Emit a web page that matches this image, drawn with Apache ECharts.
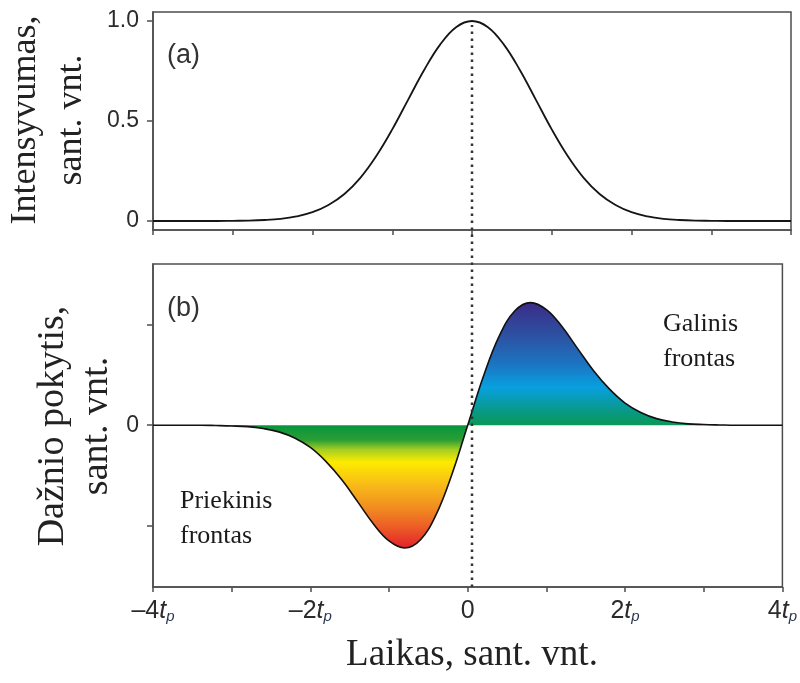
<!DOCTYPE html>
<html>
<head>
<meta charset="utf-8">
<title>Intensyvumas ir dažnio pokytis</title>
<script src="https://cdn.jsdelivr.net/npm/echarts@6/dist/echarts.min.js"></script>
<style>
html, body { margin: 0; padding: 0; background: #fff; }
#chart { width: 800px; height: 683px; }
</style>
</head>
<body>
<div id="chart"></div>
<script>
// time axis, in units of t_p
var times = [-4, -3.8, -3.6, -3.4, -3.2, -3, -2.8, -2.6, -2.4, -2.2, -2, -1.8, -1.6, -1.4, -1.2, -1, -0.8, -0.6, -0.4, -0.2,
	0, 0.2, 0.4, 0.6, 0.8, 1, 1.2, 1.4, 1.6, 1.8, 2, 2.2, 2.4, 2.6, 2.8, 3, 3.2, 3.4, 3.6, 3.8, 4];

// (a) pulse intensity
var intensity = [0, 0, 0, 0, 0, 0.001, 0.002, 0.005, 0.011, 0.023, 0.044, 0.080, 0.135, 0.216, 0.325, 0.458, 0.607, 0.755, 0.882, 0.969,
	1.000, 0.969, 0.882, 0.755, 0.607, 0.458, 0.325, 0.216, 0.135, 0.080, 0.044, 0.023, 0.011, 0.005, 0.002, 0.001, 0, 0, 0, 0, 0];

// (b) frequency change (one tick = 1 unit)
var chirp = [0, 0, 0, 0, -0.003, -0.007, -0.014, -0.033, -0.066, -0.127, -0.221, -0.362, -0.543, -0.760, -0.980, -1.151, -1.221, -1.139, -0.887, -0.487,
	0, 0.487, 0.887, 1.139, 1.221, 1.151, 0.980, 0.760, 0.543, 0.362, 0.221, 0.127, 0.066, 0.033, 0.014, 0.007, 0.003, 0, 0, 0, 0];

var timeTicks = [-4, -3, -2, -1, 0, 1, 2, 3, 4];
var timeLabelTicks = [-4, -2, 0, 2, 4];
var timeLabelText = ['\u20134', '\u20132', '0', '2', '4'];
var intensityTicks = [0, 0.5, 1];
var intensityTickText = ['0', '0.5', '1.0'];
var chirpTicks = [-1, 0, 1];
var chirpLabelTicks = [0];
var centreLine = [0, 1]; // dotted t = 0 line, bottom and top of its span

var frame = '#4d4d4d';
var ink = '#2b2b2b';
var sans = 'Liberation Sans';

var pairs = function(ys) {
	return times.map(function(t, i) {
		return [t, ys[i]];
	});
};

var myChart = echarts.init(document.getElementById('chart'));

var axisLine = { onZero: false, lineStyle: { color: frame, width: 1.5 } };
var tickStyle = { color: frame, width: 1.5 };

var option = {
	animation: false,
	backgroundColor: '#fff',
	grid: [
		{ left: 153, right: 9, top: 12, height: 218, show: true, borderColor: frame, borderWidth: 1.5 },
		{ left: 153, right: 9, top: 264, height: 323, show: true, borderColor: frame, borderWidth: 1.5 },
		{ left: 153, right: 9, top: 25, height: 562 }
	],
	xAxis: [{
		gridIndex: 0,
		type: 'value',
		position: 'bottom',
		min: -4,
		max: 4,
		interval: 1,
		axisLine: axisLine,
		axisTick: { customValues: timeTicks, inside: false, length: 5, lineStyle: tickStyle },
		axisLabel: { show: false },
		splitLine: { show: false }
	}, {
		gridIndex: 1,
		type: 'value',
		position: 'bottom',
		min: -4,
		max: 4,
		interval: 1,
		axisLine: axisLine,
		axisTick: { customValues: timeTicks, inside: false, length: 5, lineStyle: tickStyle },
		axisLabel: {
			customValues: timeLabelTicks,
			margin: 12,
			formatter: function(v) {
				var s = timeLabelText[timeLabelTicks.indexOf(v)];
				if (v === 0) return '{n|' + s + '}';
				return '{n|' + s + '}{t|t}{p|p}';
			},
			rich: {
				n: { fontFamily: sans, fontSize: 25, color: ink, verticalAlign: 'bottom' },
				t: { fontFamily: sans, fontSize: 25, fontStyle: 'italic', color: ink, verticalAlign: 'bottom' },
				p: { fontFamily: sans, fontSize: 15, fontStyle: 'italic', color: '#2a3550', verticalAlign: 'bottom' }
			}
		},
		splitLine: { show: false }
	}, {
		gridIndex: 2,
		type: 'value',
		min: -4,
		max: 4,
		show: false
	}],
	yAxis: [{
		gridIndex: 0,
		type: 'value',
		position: 'left',
		min: -0.045,
		max: 1.045,
		axisLine: axisLine,
		axisTick: { customValues: intensityTicks, inside: false, length: 6, lineStyle: tickStyle },
		axisLabel: {
			customValues: intensityTicks,
			margin: 14,
			fontFamily: sans,
			fontSize: 23,
			color: ink,
			formatter: function(v) {
				return intensityTickText[intensityTicks.indexOf(v)];
			}
		},
		splitLine: { show: false }
	}, {
		gridIndex: 1,
		type: 'value',
		position: 'left',
		min: -1.61,
		max: 1.605,
		axisLine: axisLine,
		axisTick: { customValues: chirpTicks, inside: false, length: 6, lineStyle: tickStyle },
		axisLabel: {
			customValues: chirpLabelTicks,
			margin: 14,
			fontFamily: sans,
			fontSize: 23,
			color: ink
		},
		splitLine: { show: false }
	}, {
		gridIndex: 2,
		type: 'value',
		min: 0,
		max: 1,
		show: false
	}],
	series: [{
		name: 'Intensyvumas',
		type: 'line',
		xAxisIndex: 0,
		yAxisIndex: 0,
		data: pairs(intensity),
		smooth: 0.4,
		symbol: 'none',
		lineStyle: { color: '#151515', width: 1.8 },
		silent: true
	}, {
		name: 'Dažnio pokytis',
		type: 'line',
		xAxisIndex: 1,
		yAxisIndex: 1,
		data: pairs(chirp),
		smooth: 0.4,
		symbol: 'none',
		lineStyle: { color: '#111', width: 1.6 },
		areaStyle: {
			opacity: 1,
			color: new echarts.graphic.LinearGradient(0, 0, 0, 1, [
				{ offset: 0, color: '#3a2c87' },
				{ offset: 0.15, color: '#2b55a6' },
				{ offset: 0.26, color: '#1a78c4' },
				{ offset: 0.345, color: '#08a0e0' },
				{ offset: 0.42, color: '#089a9c' },
				{ offset: 0.47, color: '#09986e' },
				{ offset: 0.5, color: '#0a9858' },
				{ offset: 0.502, color: '#08953c' },
				{ offset: 0.56, color: '#2a9e34' },
				{ offset: 0.60, color: '#a6cf22' },
				{ offset: 0.65, color: '#fdeb00' },
				{ offset: 0.75, color: '#f8b719' },
				{ offset: 0.835, color: '#f18d20' },
				{ offset: 0.915, color: '#ec5d26' },
				{ offset: 1, color: '#e3222a' }
			])
		},
		silent: true
	}, {
		name: 't = 0',
		type: 'line',
		xAxisIndex: 2,
		yAxisIndex: 2,
		data: [[0, centreLine[0]], [0, centreLine[1]]],
		symbol: 'none',
		lineStyle: { color: '#333', width: 2.5, type: [2.5, 4.5] },
		z: 5,
		silent: true
	}],
	graphic: [{
		type: 'text',
		x: 48.5,
		y: 120,
		rotation: Math.PI / 2,
		style: {
			text: 'Intensyvumas,\nsant. vnt.',
			font: '36px "Liberation Serif"',
			lineHeight: 46,
			fill: '#222',
			align: 'center',
			verticalAlign: 'middle',
			textAlign: 'center',
			textVerticalAlign: 'middle'
		}
	}, {
		type: 'text',
		x: 75,
		y: 426,
		rotation: Math.PI / 2,
		style: {
			text: 'Dažnio pokytis,\nsant. vnt.',
			font: '38px "Liberation Serif"',
			lineHeight: 44,
			fill: '#222',
			align: 'center',
			verticalAlign: 'middle',
			textAlign: 'center',
			textVerticalAlign: 'middle'
		}
	}, {
		type: 'text',
		x: 472,
		y: 655,
		style: {
			text: 'Laikas, sant. vnt.',
			font: '37px "Liberation Serif"',
			fill: '#222',
			align: 'center',
			verticalAlign: 'middle',
			textAlign: 'center',
			textVerticalAlign: 'middle'
		}
	}, {
		type: 'text',
		x: 167,
		y: 56,
		style: {
			text: '(a)',
			font: '27px "Liberation Sans"',
			fill: '#333',
			verticalAlign: 'middle',
			textVerticalAlign: 'middle'
		}
	}, {
		type: 'text',
		x: 167,
		y: 309,
		style: {
			text: '(b)',
			font: '27px "Liberation Sans"',
			fill: '#333',
			verticalAlign: 'middle',
			textVerticalAlign: 'middle'
		}
	}, {
		type: 'text',
		x: 663,
		y: 307,
		style: {
			text: 'Galinis\nfrontas',
			font: '26px "Liberation Serif"',
			lineHeight: 35,
			fill: '#1a1a1a',
			verticalAlign: 'top',
			textVerticalAlign: 'top'
		}
	}, {
		type: 'text',
		x: 180,
		y: 484,
		style: {
			text: 'Priekinis\nfrontas',
			font: '26px "Liberation Serif"',
			lineHeight: 35,
			fill: '#1a1a1a',
			verticalAlign: 'top',
			textVerticalAlign: 'top'
		}
	}]
};

myChart.setOption(option);
</script>
</body>
</html>
